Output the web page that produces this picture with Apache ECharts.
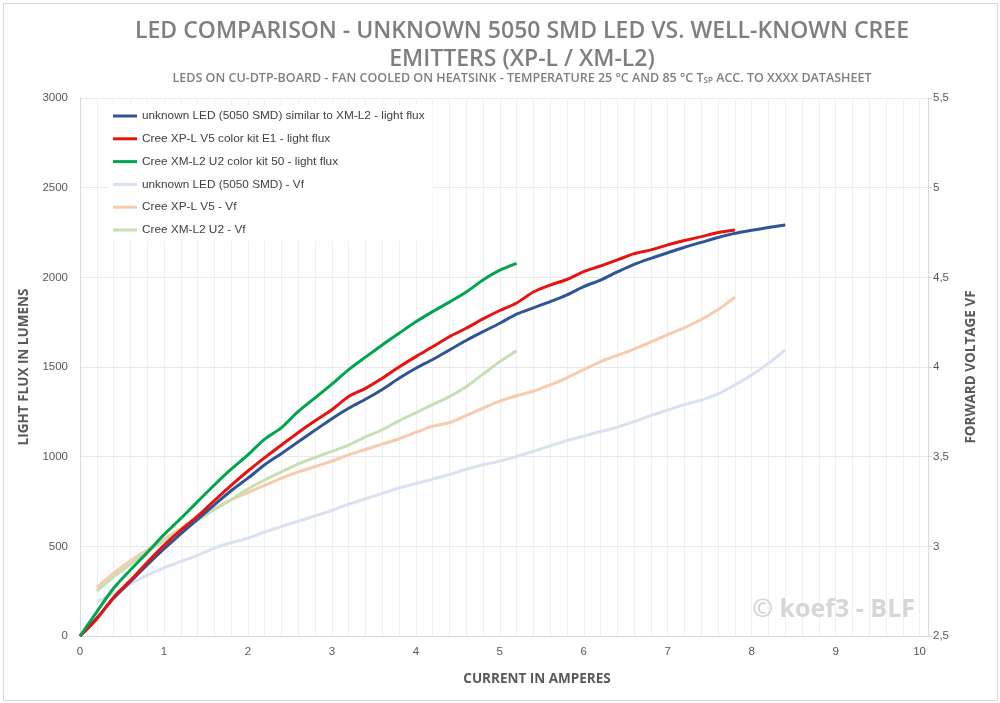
<!DOCTYPE html>
<html>
<head>
<meta charset="utf-8">
<script src="https://cdn.jsdelivr.net/npm/echarts@6/dist/echarts.min.js"></script>
<style>
html,body{margin:0;padding:0;background:#fff;}
#chart{position:absolute;left:0;top:0;width:1000px;height:703px;}
#frame{position:absolute;left:3px;top:3px;width:993px;height:696px;border:1px solid #d9d9d9;pointer-events:none;}
</style>
</head>
<body>
<div id="chart"></div>
<div id="frame"></div>
<script>
// Current steps in amperes
const current = [0,0.2,0.4,0.6,0.8,1.0,1.2,1.4,1.6,1.8,2.0,2.2,2.4,2.6,2.8,3.0,3.2,3.4,3.6,3.8,4.0,4.2,4.4,4.6,4.8,5.0,5.2,5.4,5.6,5.8,6.0,6.2,6.4,6.6,6.8,7.0,7.2,7.4,7.6,7.8,8.0,8.2,8.4];

// Light flux (lumens), starting at 0 A
const fluxUnknown = [0,100,210,303,396,485,570,650,731,810,880,955,1018,1083,1148,1212,1270,1320,1375,1437,1493,1542,1595,1648,1697,1744,1795,1830,1864,1902,1948,1985,2030,2072,2106,2137,2168,2195,2222,2245,2262,2278,2292];
const fluxXPL = [0,95,215,310,410,505,590,668,755,840,920,995,1065,1135,1200,1262,1335,1381,1437,1500,1558,1613,1669,1716,1768,1815,1857,1918,1957,1988,2032,2063,2097,2132,2153,2181,2205,2227,2250,2264];
const fluxXML2 = [0,135,266,368,465,565,655,749,842,930,1010,1098,1162,1252,1328,1405,1485,1555,1623,1688,1752,1809,1862,1918,1985,2040,2078];

// Forward voltage (V), starting at 0.2 A
const vfUnknown = [2.69,2.74,2.79,2.84,2.88,2.915,2.95,2.99,3.02,3.045,3.08,3.11,3.14,3.17,3.20,3.235,3.265,3.295,3.325,3.35,3.375,3.40,3.43,3.455,3.475,3.50,3.53,3.56,3.59,3.615,3.64,3.665,3.695,3.73,3.76,3.79,3.815,3.85,3.90,3.955,4.02,4.095];
const vfXPL = [2.77,2.85,2.92,2.98,3.04,3.10,3.16,3.21,3.26,3.30,3.34,3.38,3.415,3.445,3.475,3.51,3.54,3.57,3.60,3.635,3.67,3.69,3.73,3.77,3.81,3.84,3.865,3.90,3.94,3.985,4.03,4.065,4.10,4.14,4.18,4.22,4.265,4.32,4.39];
const vfXML2 = [2.75,2.83,2.90,2.97,3.03,3.09,3.145,3.205,3.26,3.32,3.37,3.415,3.46,3.495,3.53,3.565,3.61,3.65,3.70,3.745,3.79,3.835,3.89,3.96,4.03,4.09];

const seriesNames = [
  'unknown LED (5050 SMD) similar to XM-L2 - light flux',
  'Cree XP-L V5 color kit E1 - light flux',
  'Cree XM-L2 U2 color kit 50 - light flux',
  'unknown LED (5050 SMD) - Vf',
  'Cree XP-L V5 - Vf',
  'Cree XM-L2 U2 - Vf'
];
const colors = ['#2f5597','#e8120f','#00a64f','#d9e1f2','#f8cbad','#c5e0b4'];

const fluxPairs = arr => arr.map((v,i)=>[current[i], v]);
const vfPairs = arr => arr.map((v,i)=>[current[i+1], v]);

const seriesData = [
  fluxPairs(fluxUnknown), fluxPairs(fluxXPL), fluxPairs(fluxXML2),
  vfPairs(vfUnknown), vfPairs(vfXPL), vfPairs(vfXML2)
];

const chart = echarts.init(document.getElementById('chart'));
const axisTxt = {color:'#595959', fontSize:11.5, fontFamily:'Liberation Sans'};
const nameTxt = {color:'#595959', fontSize:13.5, fontWeight:'bold', fontFamily:'Open Sans'};

chart.setOption({
  animation:false,
  backgroundColor:'#ffffff',
  title:[{
    text:'LED COMPARISON - UNKNOWN 5050 SMD LED VS. WELL-KNOWN CREE\nEMITTERS (XP-L / XM-L2)',
    left:517, textAlign:'center', top:12,
    textStyle:{color:'#7f7f7f', fontSize:23, fontWeight:600, fontFamily:'Open Sans', lineHeight:28}
  },{
    text:'LEDS ON CU-DTP-BOARD - FAN COOLED ON HEATSINK - TEMPERATURE 25 °C AND 85 °C T{s|SP} ACC. TO XXXX DATASHEET',
    left:517, textAlign:'center', top:67,
    textStyle:{color:'#7f7f7f', fontSize:12.5, fontWeight:600, fontFamily:'Open Sans',
      rich:{s:{fontSize:8, fontWeight:600, color:'#7f7f7f', fontFamily:'Open Sans', padding:[4,0,0,0]}}}
  }],
  legend:{
    orient:'vertical', left:108, top:105,
    backgroundColor:'#ffffff', padding:[4,8,4,5],
    icon:'rect', itemWidth:24, itemHeight:3, itemGap:8.8,
    textStyle:{color:'#404040', fontSize:11.8, fontFamily:'Liberation Sans', lineHeight:14},
    data:seriesNames
  },
  grid:{left:80, right:72, top:98, bottom:67, containLabel:false},
  xAxis:{
    type:'value', min:0, max:10.1, interval:0.2,
    name:'CURRENT IN AMPERES', nameLocation:'middle', nameGap:36,
    nameTextStyle:Object.assign({padding:[0,0,0,66]}, nameTxt),
    axisLine:{show:true, lineStyle:{color:'#d9d9d9'}},
    axisTick:{show:false},
    axisLabel:Object.assign({margin:10, formatter:v=>{
      const r=Math.round(v); return (Math.abs(v-r)<1e-6 && r<=10) ? String(r) : '';
    }}, axisTxt),
    splitLine:{show:true, lineStyle:{color:'#efefef', width:1}}
  },
  yAxis:[{
    type:'value', min:0, max:3000, interval:500, position:'left',
    name:'LIGHT FLUX IN LUMENS', nameLocation:'middle', nameGap:42, nameRotate:90,
    nameTextStyle:nameTxt,
    axisLine:{show:true, lineStyle:{color:'#d9d9d9'}},
    axisTick:{show:false},
    axisLabel:Object.assign({margin:12, formatter:v=>String(v)}, axisTxt),
    splitLine:{show:true, lineStyle:{color:'#e9e9e9'}}
  },{
    type:'value', min:2.5, max:5.5, interval:0.5, position:'right',
    name:'FORWARD VOLTAGE VF', nameLocation:'middle', nameGap:36, nameRotate:90,
    nameTextStyle:nameTxt,
    axisLine:{show:true, lineStyle:{color:'#d9d9d9'}},
    axisTick:{show:true, inside:false, length:4, lineStyle:{color:'#d9d9d9'}},
    axisLabel:Object.assign({margin:5, formatter:v=>String(v).replace('.',',')}, axisTxt),
    splitLine:{show:false}
  }],
  graphic:[{
    type:'text', right:85, top:597, z:1,
    style:{text:'© koef3 - BLF', fill:'#d6d6d6', font:'bold 25px "Open Sans"'}
  }],
  series:seriesNames.map((n,i)=>({
    name:n, type:'line', yAxisIndex: i<3 ? 0 : 1,
    data:seriesData[i], showSymbol:false, smooth:0.3,
    lineStyle:{color:colors[i], width:3},
    itemStyle:{color:colors[i]},
    z: i<3 ? 3 : 2
  }))
});
</script>
</body>
</html>
